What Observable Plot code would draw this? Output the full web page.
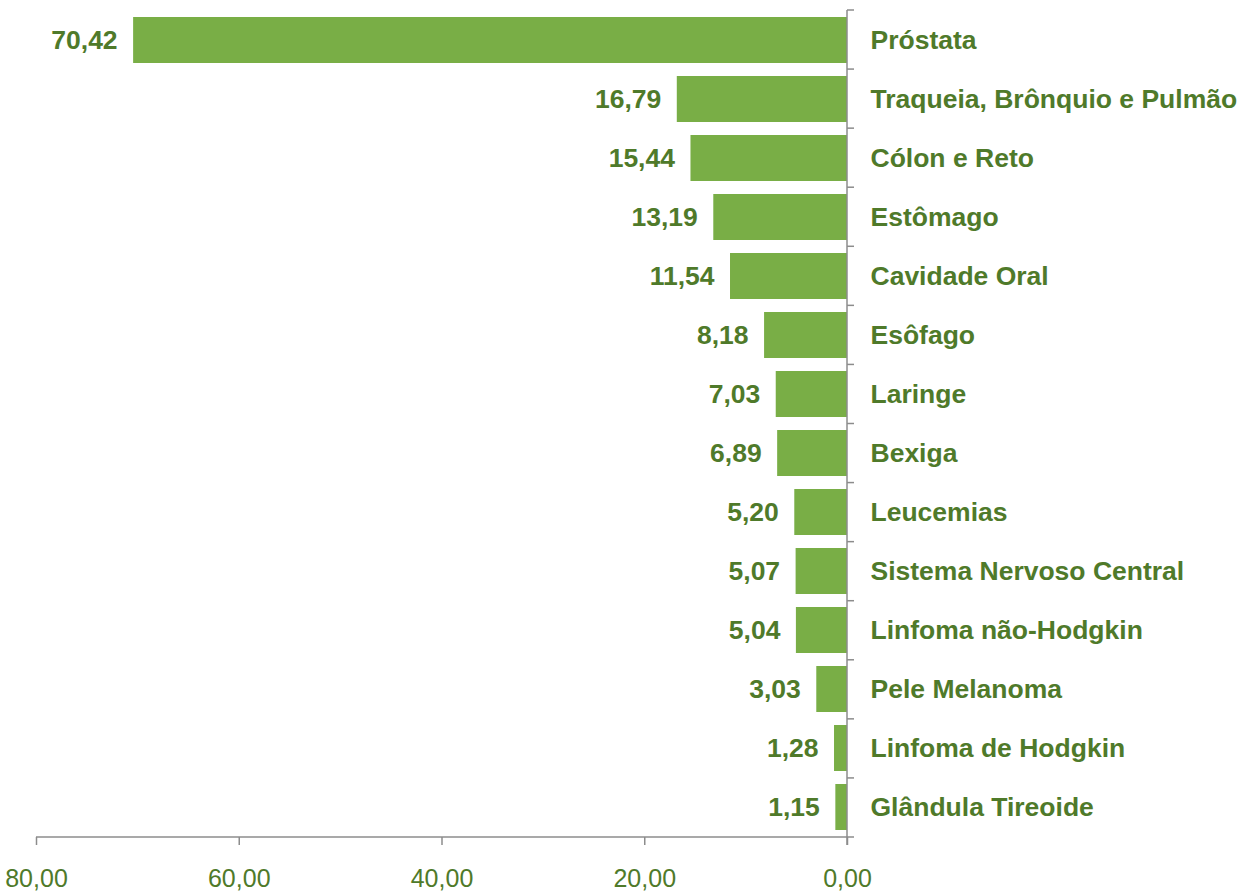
<!DOCTYPE html>
<html>
<head>
<meta charset="utf-8">
<script src="https://cdn.jsdelivr.net/npm/d3@7"></script>
<script src="https://cdn.jsdelivr.net/npm/@observablehq/plot@0.6"></script>
<style>
  html, body { margin: 0; padding: 0; background: #fff; }
  #chart svg { display: block; font-family: "Liberation Sans", Arial, sans-serif; }
</style>
</head>
<body>
<div id="chart"></div>
<script>
const categories = [
  "Próstata",
  "Traqueia, Brônquio e Pulmão",
  "Cólon e Reto",
  "Estômago",
  "Cavidade Oral",
  "Esôfago",
  "Laringe",
  "Bexiga",
  "Leucemias",
  "Sistema Nervoso Central",
  "Linfoma não-Hodgkin",
  "Pele Melanoma",
  "Linfoma de Hodgkin",
  "Glândula Tireoide"
];
const values = [70.42, 16.79, 15.44, 13.19, 11.54, 8.18, 7.03, 6.89, 5.20, 5.07, 5.04, 3.03, 1.28, 1.15];
const xTicks = [0, 20, 40, 60, 80];

const barColor = "#79ae46";
const textColor = "#4f7a2a";
const axisColor = "#8c8c8c";
const fmt = d => d.toFixed(2).replace(".", ",");

const data = categories.map((name, i) => ({name, value: values[i]}));

// Custom mark: vertical axis line at x = 0 with tick marks at the category boundaries,
// plus the horizontal axis line along the bottom.
function axisLines(index, scales, vals, dims) {
  const g = d3.create("svg:g").attr("stroke", axisColor).attr("stroke-width", 1.5).attr("fill", "none");
  const x0 = scales.x(0);
  const x80 = scales.x(80);
  const top = dims.marginTop;
  const bottom = dims.height - dims.marginBottom;
  const n = categories.length;
  const step = (bottom - top) / n;
  g.append("line").attr("x1", x0).attr("x2", x0).attr("y1", top).attr("y2", bottom + 8);
  for (let i = 0; i <= n; i++) {
    const yy = top + i * step;
    g.append("line").attr("x1", x0).attr("x2", x0 + 7).attr("y1", yy).attr("y2", yy);
  }
  g.append("line").attr("x1", x80).attr("x2", x0).attr("y1", bottom).attr("y2", bottom);
  return g.node();
}

const chart = Plot.plot({
  width: 1240,
  height: 892,
  marginLeft: 36,
  marginRight: 393,
  marginTop: 10,
  marginBottom: 55,
  style: {fontFamily: "'Liberation Sans', Arial, sans-serif", background: "#fff"},
  x: {domain: [0, 80], reverse: true, label: null},
  y: {domain: categories, paddingInner: 0.22, paddingOuter: 0.11, axis: null},
  marks: [
    Plot.barX(data, {x: "value", y: "name", fill: barColor}),
    Plot.text(data, {
      x: "value", y: "name", text: d => fmt(d.value),
      textAnchor: "end", dx: -16, fill: textColor,
      fontSize: 26.5, fontWeight: "bold"
    }),
    Plot.text(data, {
      x: 0, y: "name", text: "name",
      textAnchor: "start", dx: 23, fill: textColor,
      fontSize: 26.5, fontWeight: "bold"
    }),
    axisLines,
    Plot.axisX({
      ticks: xTicks, tickFormat: fmt, tickSize: 8, tickPadding: 24, label: null,
      stroke: axisColor, fill: textColor, fontSize: 25, strokeWidth: 1.5
    })
  ]
});
document.getElementById("chart").appendChild(chart);
</script>
</body>
</html>
